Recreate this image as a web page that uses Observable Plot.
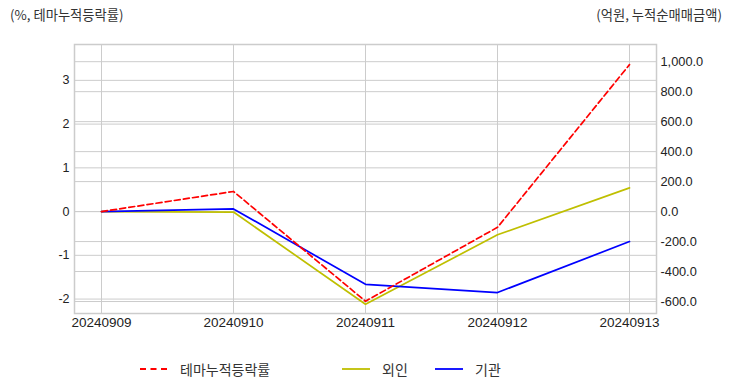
<!DOCTYPE html>
<html><head><meta charset="utf-8">
<script src="https://cdn.jsdelivr.net/npm/d3@7"></script>
<script src="https://cdn.jsdelivr.net/npm/@observablehq/plot@0.6"></script>
<style>
body{margin:0;background:#fff;font-family:"Noto Sans CJK KR","Liberation Sans",sans-serif;}
#wrap{width:732px;height:392px;position:relative;}
#hdr{height:30px;position:relative;font-size:13.3px;color:#333;}
#hl{position:absolute;left:10px;top:5px;}
#hr{position:absolute;right:10px;top:5px;}
#legend{position:absolute;top:358px;left:0;width:732px;height:22px;font-size:14px;color:#333;}
.li{position:absolute;top:0;display:flex;align-items:center;height:22px;}
.li svg{margin-right:12px;}
</style></head>
<body><div id="wrap"><div id="hdr"><span id="hl"></span><span id="hr"></span></div><div id="chart"></div><div id="legend"></div></div>
<script>
const dates = ["20240909","20240910","20240911","20240912","20240913"];
const themeRate = [0, 0.46, -2.05, -0.36, 3.36];      // %, left axis
const foreign = [0, -3, -618, -155, 158];            // 억원, right axis
const institution = [0, 18, -485, -540, -200];       // 억원, right axis
const leftTicks = [-2, -1, 0, 1, 2, 3];
const rightTicks = [-600, -400, -200, 0, 200, 400, 600, 800, 1000];
const seriesNames = ["테마누적등락률", "외인", "기관"];
const leftTitle = "(%, 테마누적등락률)";
const rightTitle = "(억원, 누적순매매금액)";

const k = 0.003427; // left units per right unit (shared zero)
const leftDomain = [-2.33, 3.82];

const theme = dates.map((d,i)=>({date:d, v:themeRate[i]}));
const fr = dates.map((d,i)=>({date:d, v:foreign[i]*k}));
const inst = dates.map((d,i)=>({date:d, v:institution[i]*k}));

const colors = ["#ff0000","#bfbf00","#0000ff"];
const fmtR = d3.format(",.1f");

const plot = Plot.plot({
  width: 732, height: 320,
  marginTop: 14, marginBottom: 37, marginLeft: 74, marginRight: 76,
  style: {fontFamily: "'Liberation Sans', sans-serif", fontSize: "12px", color: "#222", background: "#fff"},
  x: {type: "point", domain: dates, padding: 0.2},
  y: {domain: leftDomain},
  marks: [
    Plot.gridX(dates, {stroke: "#ccc", strokeOpacity: 1, strokeWidth: 1}),
    Plot.gridY(leftTicks, {stroke: "#ccc", strokeOpacity: 1, strokeWidth: 1}),
    Plot.gridY(rightTicks.map(v=>v*k), {stroke: "#ccc", strokeOpacity: 1, strokeWidth: 1}),
    Plot.frame({stroke: "#ccc", strokeWidth: 1.5}),
    Plot.axisX({tickSize: 0, tickPadding: 4, label: null, fontSize: 13.5}),
    Plot.axisY(leftTicks, {anchor: "left", tickSize: 0, tickPadding: 5, label: null, tickFormat: d=>String(d).replace("−","-"), fontSize: 12.5}),
    Plot.axisY(rightTicks.map(v=>v*k), {anchor: "right", tickSize: 0, tickPadding: 4, label: null, tickFormat: d=>fmtR(Math.round(d/k)).replace("−","-"), fontSize: 12.8}),
    Plot.line(fr, {x: "date", y: "v", stroke: colors[1], strokeWidth: 1.7}),
    Plot.line(inst, {x: "date", y: "v", stroke: colors[2], strokeWidth: 1.7}),
    Plot.line(theme, {x: "date", y: "v", stroke: colors[0], strokeWidth: 1.7, strokeDasharray: "6,3.2"})
  ]
});
document.getElementById("chart").appendChild(plot);
document.getElementById("hl").textContent = leftTitle;
document.getElementById("hr").textContent = rightTitle;

const lg = document.getElementById("legend");
const lefts = [140, 342, 435];
seriesNames.forEach((n,i)=>{
  const div = document.createElement("div");
  div.className = "li";
  div.style.left = lefts[i] + "px";
  const dash = i===0 ? ' stroke-dasharray="6,4.5"' : '';
  div.innerHTML = `<svg width="28" height="4"><line x1="0" y1="2" x2="28" y2="2" stroke="${colors[i]}" stroke-width="1.8"${dash}/></svg><span></span>`;
  div.querySelector("span").textContent = n;
  lg.appendChild(div);
});
</script></body></html>
